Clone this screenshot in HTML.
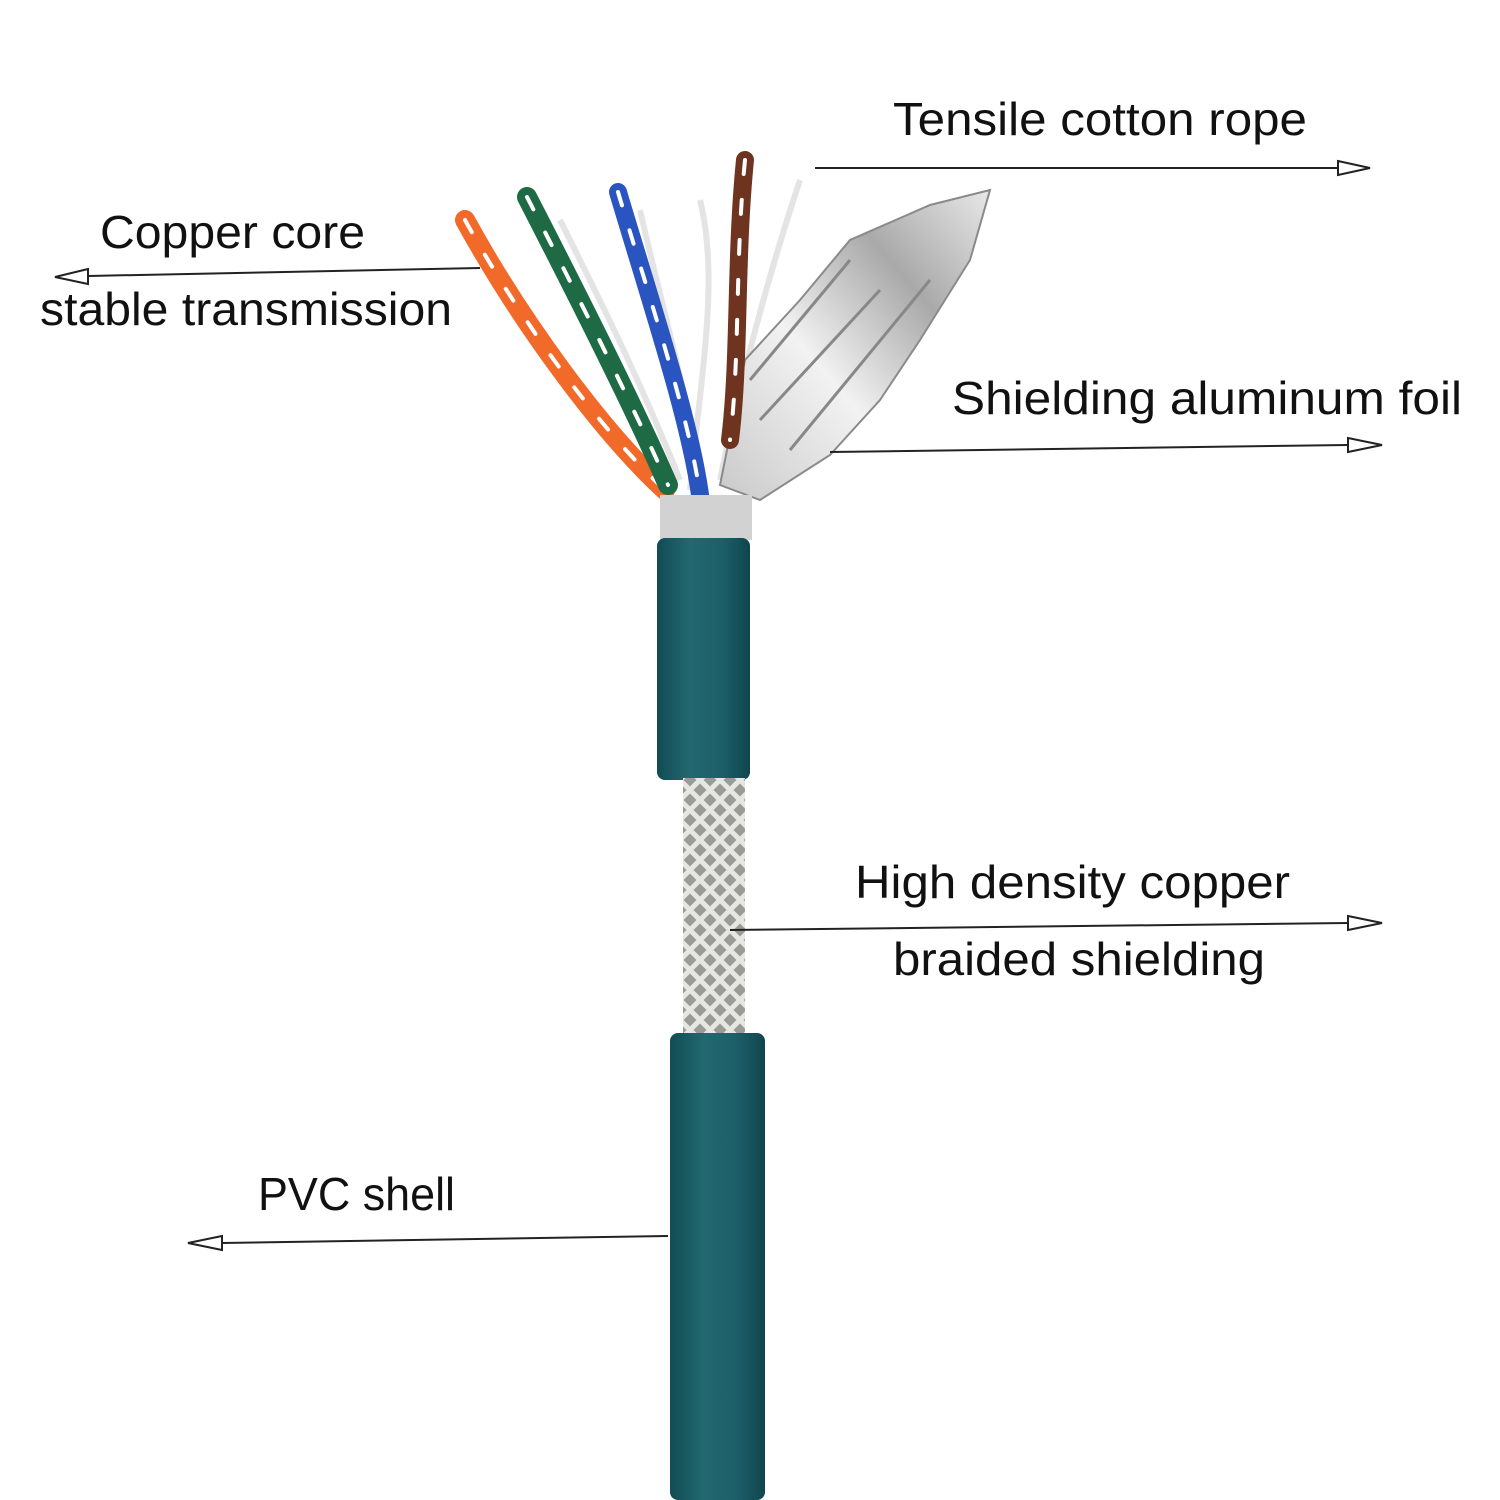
<!DOCTYPE html>
<html><head><meta charset="utf-8"><style>
html,body{margin:0;padding:0;background:#fff}
svg{display:block}
text{font-family:"Liberation Sans",sans-serif;font-size:46px;fill:#111}
</style></head><body>
<svg width="1500" height="1500" viewBox="0 0 1500 1500" xmlns="http://www.w3.org/2000/svg">
<defs>
<linearGradient id="teal" x1="0" x2="1" y1="0" y2="0">
<stop offset="0" stop-color="#124c55"/><stop offset="0.35" stop-color="#22686f"/><stop offset="0.7" stop-color="#1c5f69"/><stop offset="1" stop-color="#10454d"/>
</linearGradient>
<pattern id="braid" width="20" height="20" patternUnits="userSpaceOnUse">
<rect width="20" height="20" fill="#9a9a96"/>
<path d="M0 0L10 10L0 20M20 0L10 10L20 20" stroke="#e6e6e2" stroke-width="5" fill="none"/>
</pattern>
<linearGradient id="foil" x1="0" x2="1" y1="1" y2="0">
<stop offset="0" stop-color="#c9c9c9"/><stop offset="0.4" stop-color="#f2f2f2"/><stop offset="0.7" stop-color="#a9a9a9"/><stop offset="1" stop-color="#e8e8e8"/>
</linearGradient>
</defs>
<rect width="1500" height="1500" fill="#fff"/>

<g stroke="#e4e4e4" stroke-width="6" fill="none">
<path d="M700 490 C690 400 660 300 640 210"/>
<path d="M690 490 C700 380 720 280 700 200"/>
<path d="M720 480 C740 380 770 270 800 180"/>
<path d="M680 480 C640 380 600 300 560 220"/>
</g>

<path d="M720 485 L745 360 L800 300 L850 240 L930 205 L990 190 L970 260 L920 340 L880 400 L830 455 L760 500 Z" fill="url(#foil)" stroke="#8a8a8a" stroke-width="2"/>
<path d="M760 420 L880 290 M790 450 L930 280 M750 380 L850 260" stroke="#888" stroke-width="3" fill="none"/>

<g fill="none" stroke-linecap="round">
<path d="M465 220 C520 320 600 430 665 490" stroke="#f26a2a" stroke-width="20"/>
<path d="M465 220 C520 320 600 430 665 490" stroke="#fff" stroke-width="4" stroke-dasharray="14 26"/>
<path d="M527 197 C580 300 640 420 668 485" stroke="#1e6a44" stroke-width="20"/>
<path d="M527 197 C580 300 640 420 668 485" stroke="#fff" stroke-width="4" stroke-dasharray="14 26"/>
<path d="M618 192 C650 300 690 420 700 495" stroke="#2a55c0" stroke-width="18"/>
<path d="M618 192 C650 300 690 420 700 495" stroke="#fff" stroke-width="4" stroke-dasharray="14 26"/>
<path d="M745 160 C735 260 740 360 730 440" stroke="#6e3420" stroke-width="18"/>
<path d="M745 160 C735 260 740 360 730 440" stroke="#fff" stroke-width="4" stroke-dasharray="14 26"/>
</g>
<rect x="660" y="495" width="92" height="45" fill="#d2d2d2"/>

<rect x="657" y="538" width="93" height="242" rx="8" fill="url(#teal)"/>
<rect x="683" y="778" width="62" height="255" fill="url(#braid)"/>
<rect x="670" y="1033" width="95" height="467" rx="8" fill="url(#teal)"/>

<g stroke="#222" stroke-width="2" fill="#fff">
<line x1="815" y1="168" x2="1340" y2="168"/>
<path d="M1338 161 L1370 168 L1338 175 Z"/>
<line x1="480" y1="268" x2="88" y2="276"/>
<path d="M88 269 L55 277 L88 284 Z"/>
<line x1="830" y1="452" x2="1348" y2="445"/>
<path d="M1348 438 L1382 445 L1348 452 Z"/>
<line x1="730" y1="930" x2="1348" y2="923"/>
<path d="M1348 916 L1382 923 L1348 930 Z"/>
<line x1="668" y1="1236" x2="222" y2="1243"/>
<path d="M222 1236 L188 1243 L222 1250 Z"/>
</g>

<text x="893" y="135" textLength="414" lengthAdjust="spacingAndGlyphs">Tensile cotton rope</text>
<text x="100" y="248" textLength="265" lengthAdjust="spacingAndGlyphs">Copper core</text>
<text x="40" y="325" textLength="412" lengthAdjust="spacingAndGlyphs">stable transmission</text>
<text x="952" y="414" textLength="510" lengthAdjust="spacingAndGlyphs">Shielding aluminum foil</text>
<text x="855" y="898" textLength="435" lengthAdjust="spacingAndGlyphs">High density copper</text>
<text x="893" y="975" textLength="372" lengthAdjust="spacingAndGlyphs">braided shielding</text>
<text x="258" y="1210" textLength="197" lengthAdjust="spacingAndGlyphs">PVC shell</text>
</svg>
</body></html>
